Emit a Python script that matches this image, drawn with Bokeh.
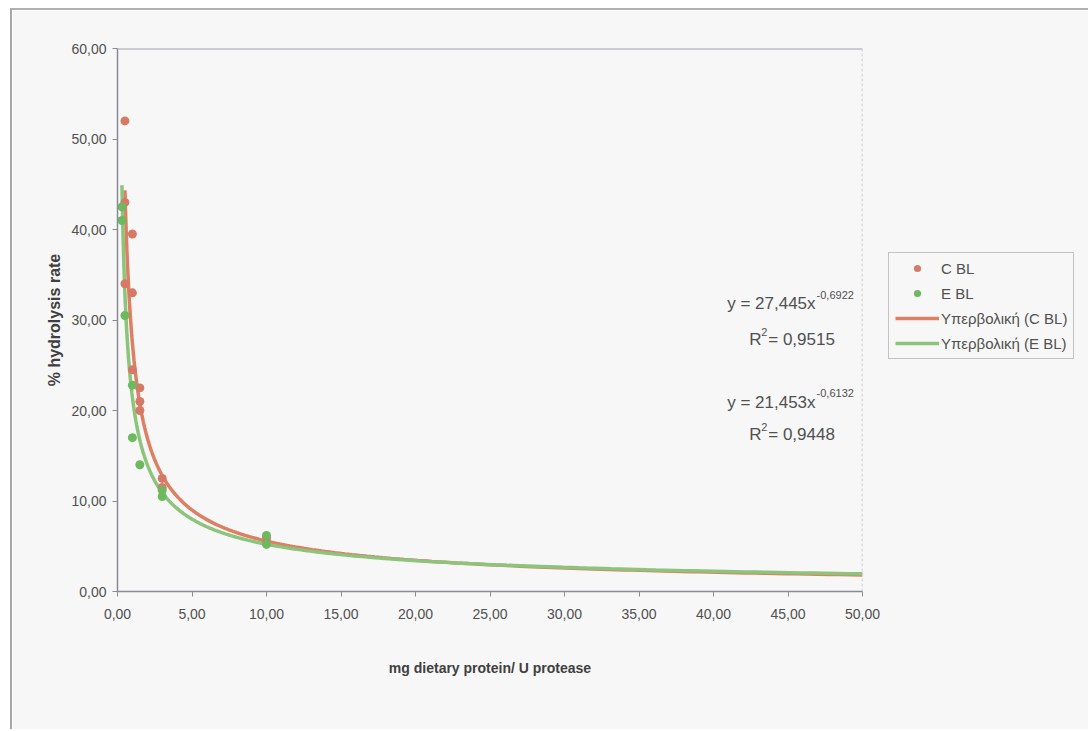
from bokeh.plotting import figure
from bokeh.models import (Range1d, FixedTicker, CustomJSTickFormatter, Legend, LegendItem,
                          Span, Label)
from bokeh.embed import file_html
from bokeh.resources import INLINE
import numpy as np

# ---- data ----
c_bl_x = [0.5, 0.5, 0.5, 1.0, 1.0, 1.0, 1.5, 1.5, 1.5, 3.0, 3.0, 10.0, 10.0]
c_bl_y = [52.0, 43.0, 34.0, 39.5, 33.0, 24.5, 22.5, 21.0, 20.0, 12.5, 11.5, 6.0, 5.6]
e_bl_x = [0.3, 0.3, 0.5, 1.0, 1.0, 1.5, 3.0, 3.0, 10.0, 10.0]
e_bl_y = [42.5, 41.0, 30.5, 22.8, 17.0, 14.0, 11.2, 10.5, 6.2, 5.2]

# power trendlines y = a * x^b, as printed on the chart
c_fit_a, c_fit_b, c_fit_r2 = 27.445, -0.6922, 0.9515
e_fit_a, e_fit_b, e_fit_r2 = 21.453, -0.6132, 0.9448
c_fit_xmin, e_fit_xmin, fit_xmax = 0.5, 0.3, 50.0

x_ticks = [0, 5, 10, 15, 20, 25, 30, 35, 40, 45, 50]
y_ticks = [0, 10, 20, 30, 40, 50, 60]

series_names = ["C BL", "E BL", "Υπερβολική (C BL)", "Υπερβολική (E BL)"]

# ---- styling ----
FONT = "Liberation Sans"
BG = "#f7f7f7"
RED_PT, RED_LN = "#d67a68", "#dc7f63"
GRN_PT, GRN_LN = "#6db95f", "#8bc47a"
TXT = "#505050"

p = figure(frame_width=745, frame_height=543,
           min_border_left=105, min_border_top=38, min_border_right=218, min_border_bottom=138,
           x_range=Range1d(0, 50), y_range=Range1d(0, 60),
           output_backend="svg", toolbar_location=None,
           background_fill_color=BG, border_fill_color=BG)
p.styles = {"border-left": "2px solid #a8a8a8", "border-top": "2px solid #b0b0b0",
            "margin-left": "10px", "margin-top": "8px"}
p.outline_line_color = None
p.grid.visible = False

for ax in (p.xaxis[0], p.yaxis[0]):
    ax.axis_line_color = "#8a8a95"
    ax.axis_line_width = 1.5
    ax.major_tick_line_color = "#8a8a95"
    ax.major_tick_out = 5
    ax.major_tick_in = 0
    ax.minor_tick_line_color = None
    ax.major_label_text_font = FONT
    ax.major_label_text_font_size = "14px"
    ax.major_label_text_color = TXT
    ax.formatter = CustomJSTickFormatter(code="return tick.toFixed(2).replace('.', ',');")
    ax.axis_label_text_font = FONT
    ax.axis_label_text_font_style = "bold"
    ax.axis_label_text_color = "#404040"

p.xaxis.ticker = FixedTicker(ticks=x_ticks)
p.yaxis.ticker = FixedTicker(ticks=y_ticks)
p.xaxis.major_label_standoff = 12
p.yaxis.major_label_standoff = 6
p.xaxis.axis_label = "mg dietary protein/ U protease"
p.xaxis.axis_label_text_font_size = "14px"
p.xaxis.axis_label_standoff = 38
p.yaxis.axis_label = "% hydrolysis rate"
p.yaxis.axis_label_text_font_size = "16px"
p.yaxis.axis_label_standoff = 5

# plot-area top and right border
p.add_layout(Span(location=60, dimension="width", line_color="#a0a0a8", line_width=2))
p.add_layout(Span(location=50, dimension="height", line_color="#c0c0cc", line_width=1.5,
                  line_dash="3 2"))

# trendlines
cx = np.geomspace(c_fit_xmin, fit_xmax, 300)
ex = np.geomspace(e_fit_xmin, fit_xmax, 300)
r_line = p.line(cx, c_fit_a * cx ** c_fit_b, line_color=RED_LN, line_width=3.5)
g_line = p.line(ex, e_fit_a * ex ** e_fit_b, line_color=GRN_LN, line_width=3.5)

# points
r_pts = p.scatter(c_bl_x, c_bl_y, size=9, fill_color=RED_PT, line_color=None)
g_pts = p.scatter(e_bl_x, e_bl_y, size=9, fill_color=GRN_PT, line_color=None)

legend = Legend(items=[LegendItem(label=series_names[0], renderers=[r_pts]),
                       LegendItem(label=series_names[1], renderers=[g_pts]),
                       LegendItem(label=series_names[2], renderers=[r_line]),
                       LegendItem(label=series_names[3], renderers=[g_line])],
                location=(26, 232))
legend.border_line_color = "#909090"
legend.border_line_width = 1
legend.background_fill_color = BG
legend.background_fill_alpha = 1
legend.label_text_font = FONT
legend.label_text_font_size = "15px"
legend.label_text_color = TXT
legend.glyph_width = 44
legend.glyph_height = 18
legend.label_standoff = 2
legend.spacing = 7
legend.padding = 6
legend.margin = 0
p.add_layout(legend, "right")

# equation labels
def eq(x, y, y2, rx, base, sup, r2):
    kw = dict(text_font=FONT, text_color=TXT, text_baseline="alphabetic")
    p.add_layout(Label(x=x, y=y, text=base, text_align="right", text_font_size="17px", **kw))
    p.add_layout(Label(x=x, y=y, x_offset=1, y_offset=9, text=sup, text_align="left",
                       text_font_size="11px", **kw))
    p.add_layout(Label(x=rx, y=y2, text="R", text_align="left", text_font_size="17px", **kw))
    p.add_layout(Label(x=rx, y=y2, x_offset=12, y_offset=8, text="2", text_align="left",
                       text_font_size="11px", **kw))
    p.add_layout(Label(x=rx, y=y2, x_offset=19, text="= " + f"{r2:.4f}".replace(".", ","),
                       text_align="left", text_font_size="17px", **kw))

eq(46.85, 31.8, 27.8, 42.4, "y = 27,445x", f"{c_fit_b:.4f}".replace(".", ","), c_fit_r2)
eq(46.85, 20.9, 17.3, 42.4, "y = 21,453x", f"{e_fit_b:.4f}".replace(".", ","), e_fit_r2)

open("out.html", "w").write(file_html(p, INLINE))
